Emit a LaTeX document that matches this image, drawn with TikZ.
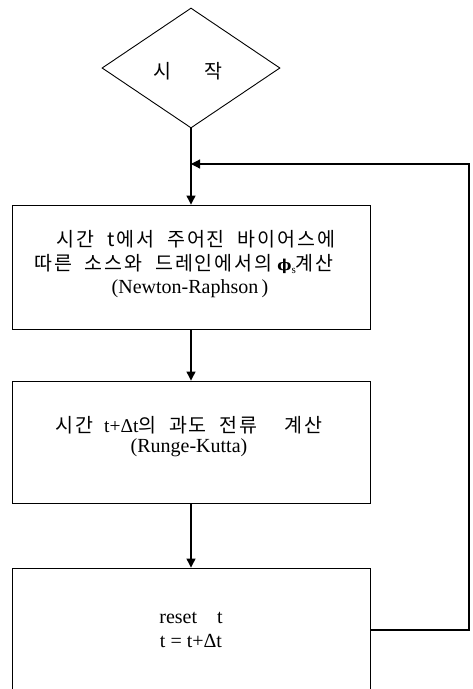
\documentclass[tikz,border=0pt]{standalone}
\usepackage{fontspec}
\setmainfont{Liberation Serif}
\newfontfamily\kr[LetterSpace=10,WordSpace=2]{Noto Sans CJK KR}
\newfontfamily\dvs{DejaVu Serif}
\usetikzlibrary{shapes.geometric,arrows.meta}
\tikzset{
  box/.style={draw, line width=0.9pt, rectangle, minimum width=358pt, inner sep=0pt},
  arr/.style={line width=1.2pt, -{Triangle[length=9pt,width=9pt]}},
  txt/.style={align=center, inner sep=0pt, font=\fontsize{19.5}{24}\selectfont}
}
\begin{document}
\begin{tikzpicture}[x=1pt,y=-1pt]
\clip (0,0) rectangle (472,689);
\fill[white] (0,0) rectangle (472,689);
\node[diamond, draw, line width=0.9pt, minimum width=178pt, minimum height=120pt, inner sep=0pt] (start) at (191,68) {};
\node[txt] (starttxt) at (188,71) {\kr 시\hspace{1.7em}작};
\node[box, minimum height=124pt] (box1) at (191,267) {};
\node[txt] (box1txt) at (184,264) {\hspace*{24pt}{\kr 시간 t에서 주어진 바이어스에}\\{\kr 따른 소스와 드레인에서의} {\dvs\fontsize{15}{15}\selectfont\bfseries ϕ}\raisebox{-3pt}{\fontsize{11}{11}\selectfont s}{\kr 계산}\\[-1pt]\hspace*{12pt}{\fontsize{20}{24}\selectfont (Newton-Raphson\,)}};
\node[box, minimum height=122pt] (box2) at (191,442) {};
\node[txt] (box2txt) at (189,437) {{\kr 시간}\hspace{0.55em}t+Δt{\kr 의 과도 전류}\hspace{1.4em}{\kr 계산}\\[-4pt]{\fontsize{20}{24}\selectfont (Runge-Kutta)}};
\node[box, minimum height=142pt] (box3) at (191,639) {};
\node[txt, font=\fontsize{20}{24}\selectfont] (reset) at (191,630) {reset\hspace{1em}t\\t = t+Δt};
\coordinate (loopR) at (469,630);
\coordinate (loopT) at (469,164);
\draw[arr] (start.south) -- (box1.north);
\draw[arr] (box1.south) -- (box2.north);
\draw[arr] (box2.south) -- (box3.north);
\draw[arr] (box3.east |- loopR) -- (loopR) -- (loopT) -- (loopT -| start.south);
\end{tikzpicture}
\end{document}
